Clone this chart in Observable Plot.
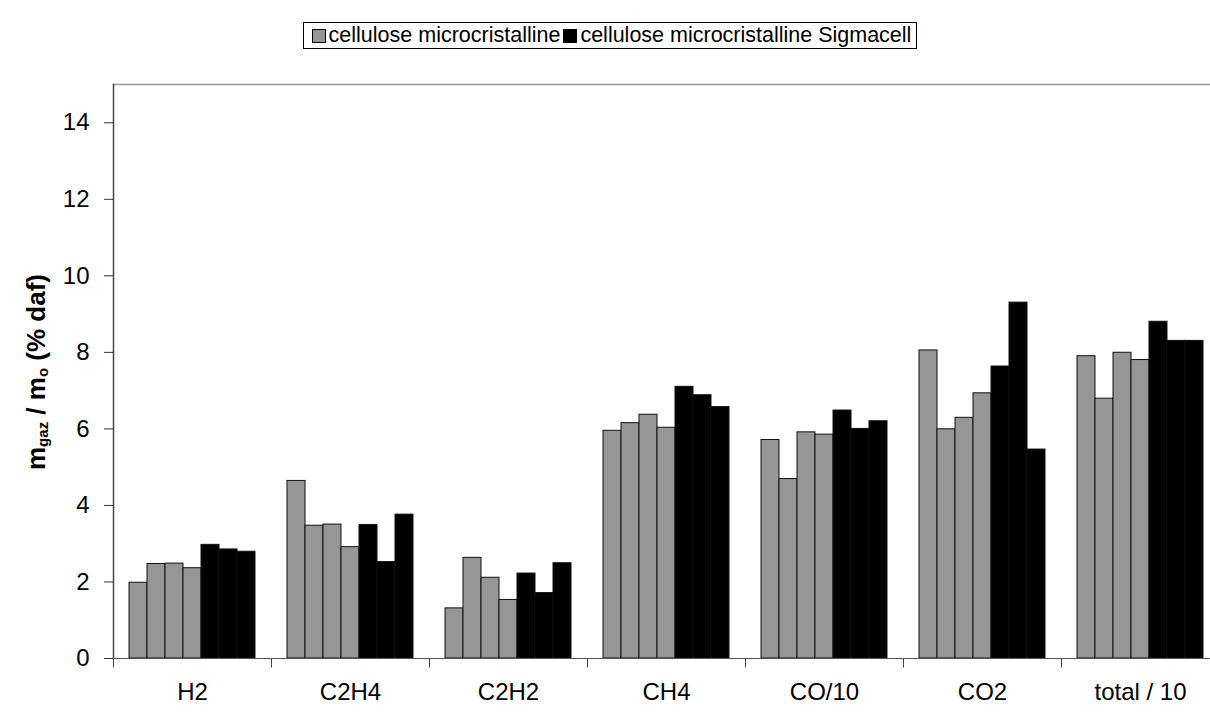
<!DOCTYPE html>
<html>
<head>
<meta charset="utf-8">
<script src="https://cdn.jsdelivr.net/npm/d3@7"></script>
<script src="https://cdn.jsdelivr.net/npm/@observablehq/plot@0.6"></script>
<style>
  html, body { margin: 0; padding: 0; background: #fff; overflow: hidden; width: 1210px; height: 714px; }
  body { position: relative; font-family: "Liberation Sans", Arial, sans-serif; }
  #chart { position: absolute; left: 0; top: 0; width: 1230px; }
  #chart svg { max-width: none !important; }
  #legend {
    position: absolute; left: 303px; top: 22px; width: 612px; height: 25px;
    border: 1px solid #000; display: flex; align-items: center; justify-content: center;
    font-size: 21.5px; color: #000; white-space: nowrap; gap: 0; overflow: hidden;
  }
  #legend .sw { flex: 0 0 auto; display: inline-block; width: 12px; height: 12px; border: 1px solid #000; margin: 0 3px 0 3px; }
  #legend .lt { flex: 0 0 auto; }
  #ytitle {
    position: absolute; left: 36px; top: 372px; transform: translate(-50%, -50%) rotate(-90deg);
    font-weight: bold; font-size: 26px; white-space: nowrap; color: #000;
  }
  #ytitle sub { font-size: 15px; vertical-align: -3px; }
</style>
</head>
<body>
<div id="chart"></div>
<div id="legend"></div>
<div id="ytitle">m<sub>gaz</sub> / m<sub>o</sub> (% daf)</div>
<script>
// ---- data ----
const gasCategories = ["H2", "C2H4", "C2H2", "CH4", "CO/10", "CO2", "total / 10"];
const seriesNames = ["cellulose microcristalline", "cellulose microcristalline Sigmacell"];
const seriesColors = ["#969696", "#000000"];
// cellulose microcristalline: 4 runs per gas
const celluloseValues = [
  [1.98, 2.47, 2.48, 2.36],
  [4.64, 3.47, 3.50, 2.91],
  [1.31, 2.63, 2.11, 1.53],
  [5.95, 6.15, 6.37, 6.03],
  [5.71, 4.69, 5.91, 5.85],
  [8.05, 5.99, 6.29, 6.93],
  [7.90, 6.79, 7.99, 7.80]
];
// cellulose microcristalline Sigmacell: 3 runs per gas
const sigmacellValues = [
  [2.97, 2.85, 2.79],
  [3.49, 2.52, 3.76],
  [2.22, 1.71, 2.49],
  [7.10, 6.88, 6.57],
  [6.48, 6.00, 6.20],
  [7.63, 9.30, 5.46],
  [8.80, 8.30, 8.30]
];
const yTicks = [0, 2, 4, 6, 8, 10, 12, 14];

// ---- build table ----
const rows = [];
gasCategories.forEach((gas, i) => {
  let slot = 0;
  celluloseValues[i].forEach(v => rows.push({gas, slot: String(slot++), series: seriesNames[0], value: v}));
  sigmacellValues[i].forEach(v => rows.push({gas, slot: String(slot++), series: seriesNames[1], value: v}));
});
const slots = d3.range(7).map(String);

const tickSymbol = {draw(ctx) { ctx.moveTo(0, 0); ctx.lineTo(0, 9); }};

const plot = Plot.plot({
  width: 1230,
  height: 714,
  marginLeft: 111,
  marginRight: 10,
  marginTop: 84,
  marginBottom: 56,
  style: {fontFamily: "'Liberation Sans', Arial, sans-serif", color: "#000", background: "transparent", maxWidth: "none"},
  fx: {domain: gasCategories, paddingInner: 0, paddingOuter: 0, label: null, axis: null},
  x: {domain: slots, paddingInner: 0, paddingOuter: 0.71, axis: null},
  y: {domain: [0, 15], axis: null},
  color: {domain: seriesNames, range: seriesColors},
  marks: [
    Plot.barY(rows, {fx: "gas", x: "slot", y: "value", fill: "series", stroke: "#111", strokeWidth: 1}),
    Plot.frame({anchor: "top", facet: "super", stroke: "#9a9a9a", strokeWidth: 1.5}),
    Plot.frame({anchor: "left", facet: "super", stroke: "#444", strokeWidth: 1.5}),
    Plot.frame({anchor: "bottom", facet: "super", stroke: "#555", strokeWidth: 1}),
    Plot.dot([0], {x: null, y: null, frameAnchor: "bottom-left", symbol: tickSymbol, stroke: "#444", fill: "none", strokeWidth: 1}),
    Plot.axisY({ticks: yTicks, tickSize: 9, tickPadding: 15, fontSize: 24, label: null, stroke: "#333"}),
    Plot.axisFx({anchor: "bottom", tickSize: 0, tickPadding: 24, fontSize: 24, label: null})
  ]
});
document.getElementById("chart").appendChild(plot);

// ---- legend ----
const legend = document.getElementById("legend");
seriesNames.forEach((name, k) => {
  const sw = document.createElement("span");
  sw.className = "sw";
  sw.style.background = seriesColors[k];
  legend.appendChild(sw);
  const t = document.createElement("span");
  t.className = "lt";
  t.textContent = name;
  legend.appendChild(t);
});
</script>
</body>
</html>
